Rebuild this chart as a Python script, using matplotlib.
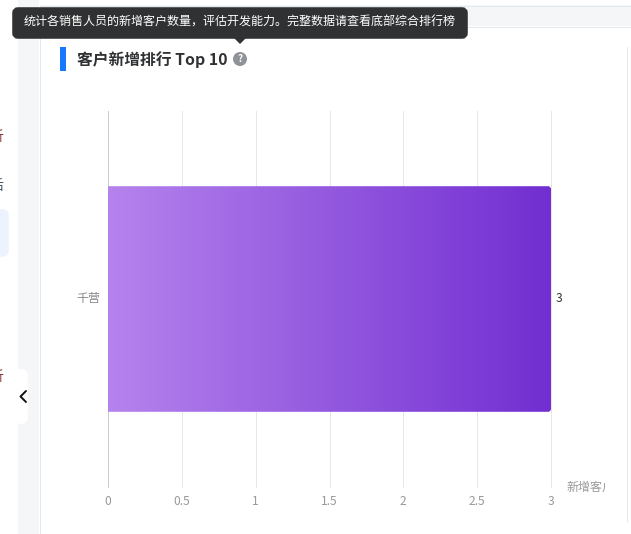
import numpy as np
import matplotlib
matplotlib.use('Agg')
import matplotlib.pyplot as plt
import matplotlib.patches as patches
from matplotlib.colors import LinearSegmentedColormap
from matplotlib.transforms import Bbox, ScaledTranslation

plt.rcParams['font.family'] = ['Noto Sans CJK SC', 'DejaVu Sans']

W, H = 631, 534

names = ['千营']
new_customers = [3]
x_ticks = [0, 0.5, 1, 1.5, 2, 2.5, 3]
x_labels = ['0', '0.5', '1', '1.5', '2', '2.5', '3']

title = '客户新增排行 Top 10'
tip = '统计各销售人员的新增客户数量，评估开发能力。完整数据请查看底部综合排行榜'
x_name = '新增客户数'


def px(size):
    # css pixels to points at dpi 100
    return size * 0.72


fig = plt.figure(figsize=(W / 100, H / 100), dpi=100, facecolor='white')

# page behind the chart, in pixel coordinates
bg = fig.add_axes([0, 0, 1, 1], zorder=0)
bg.set_xlim(0, W)
bg.set_ylim(H, 0)
bg.axis('off')

# grey strip and header band
line = px(1)
bg.add_patch(patches.Rectangle((18, 0), 21, H, facecolor='#f4f6f8', edgecolor='none'))
bg.plot([39.5, 39.5], [26, H], color='#e4e7ed', lw=line)
bg.add_patch(patches.Rectangle((40, 5), W - 40, 21, facecolor='#f4f6f8', edgecolor='none'))
bg.plot([40, W], [5.5, 5.5], color='#e4e7ed', lw=line)
bg.plot([40, W], [26.5, 26.5], color='#e4e7ed', lw=line)
bg.plot([626.5, 626.5], [47, 521], color='#e4e7ed', lw=line)

# what is left of the side menu
bg.add_patch(patches.FancyBboxPatch((-6, 212), 12, 42, boxstyle='round,pad=0,rounding_size=3',
                                    facecolor='#ecf3ff', edgecolor='#ecf3ff', lw=4))
for menu_y, menu_text, menu_color in [(137, '析', '#8a3a3a'), (186, '后', '#4a5a66'), (377, '析', '#8a3a3a')]:
    bg.text(4, menu_y, menu_text, fontsize=px(14), color=menu_color, ha='right', va='center')

# collapse button
bg.add_patch(patches.FancyBboxPatch((14, 372), 11, 49, boxstyle='round,pad=0,rounding_size=3',
                                    facecolor='white', edgecolor='white', lw=4))
bg.add_patch(patches.Rectangle((10, 365), 8, 62, facecolor='white', edgecolor='none'))
bg.plot([26, 20.5, 26], [391, 396.5, 402], color='#111111', lw=1.4, solid_capstyle='round')

# heading
bg.add_patch(patches.Rectangle((60, 47), 6, 24, facecolor='#1677ff', edgecolor='none'))
bg.text(77, 60, title, fontsize=px(15.8), fontweight='bold', color='#303133', va='center', ha='left')
bg.add_patch(patches.Circle((240, 59), 7, facecolor='#909399', edgecolor='none'))
bg.text(240, 59, '?', fontsize=px(10), fontweight='bold', color='white', va='center', ha='center')

# chart
ax = fig.add_axes([108 / W, 1 - 487 / H, 443 / W, 376 / H], zorder=1)
ax.patch.set_alpha(0)
y_pos = np.arange(len(names))
bars = ax.barh(y_pos, new_customers, height=0.6, color='none', zorder=3)
ax.set_xlim(x_ticks[0], x_ticks[-1])
ax.set_ylim(-0.5, 0.5)
ax.set_xticks(x_ticks)
ax.set_xticklabels(x_labels, fontsize=px(12), color='#999999')
ax.set_yticks(y_pos)
ax.set_yticklabels(names, fontsize=px(12), color='#888888')
ax.tick_params(axis='both', length=0)
ax.tick_params(axis='x', pad=5.7)
ax.tick_params(axis='y', pad=5.5)
ax.grid(axis='x', color='#e6e6e6', lw=line, zorder=1, clip_on=False)
for side in ['top', 'right', 'bottom']:
    ax.spines[side].set_visible(False)
ax.spines['left'].set_color('#cccccc')
ax.spines['left'].set_linewidth(line)
for label in ax.get_yticklabels():
    label.set_transform(label.get_transform() + ScaledTranslation(0, 2 / 100, fig.dpi_scale_trans))

# gradient fill for each bar, cut to a rounded outline
cmap = LinearSegmentedColormap.from_list('bar', ['#b583ed', '#722ed1'])
for bar, value in zip(bars, new_customers):
    y0, h = bar.get_y(), bar.get_height()
    img = ax.imshow(np.linspace(0, 1, 256).reshape(1, -1), cmap=cmap, aspect='auto',
                    extent=(0, value, y0, y0 + h), zorder=3)
    # rounding is set in pixels, so the outline is built in pixel space
    x0p, y0p = ax.transData.transform((0, y0))
    x1p, y1p = ax.transData.transform((value, y0 + h))
    r = 2
    outline = patches.Polygon(
        [(x0p, y0p), (x1p - r, y0p), (x1p, y0p + r), (x1p, y1p - r), (x1p - r, y1p), (x0p, y1p)],
        transform=None, facecolor='none', edgecolor='none')
    ax.add_patch(outline)
    img.set_clip_path(outline)
    ax.annotate(str(value), (value, y_pos[0]), xytext=(3.6, 0), textcoords='offset points',
                fontsize=px(12), color='#333333', va='center', ha='left', zorder=4)
ax.set_ylim(-0.5, 0.5)
ax.set_xlim(x_ticks[0], x_ticks[-1])

# axis name, cut off by its box in the original
name_text = fig.text(566 / W, 1 - 487 / H, x_name, fontsize=px(12), color='#999999', va='center', ha='left')
name_text.set_clip_box(Bbox([[566, 0], [605, H]]))
name_text.set_clip_on(True)

# tooltip on top of everything
top = fig.add_axes([0, 0, 1, 1], zorder=5)
top.set_xlim(0, W)
top.set_ylim(H, 0)
top.axis('off')
top.add_patch(patches.FancyBboxPatch((15, 10), 450, 26, boxstyle='round,pad=0,rounding_size=3',
                                     facecolor='#303133', edgecolor='#303133', lw=4))
top.add_patch(patches.Polygon([(234, 38), (246, 38), (240, 44)], facecolor='#303133', edgecolor='none'))
top.text(24, 22.5, tip, fontsize=px(12.06), color='white', va='center', ha='left')

fig.savefig('out.png', dpi=100)
plt.close(fig)
